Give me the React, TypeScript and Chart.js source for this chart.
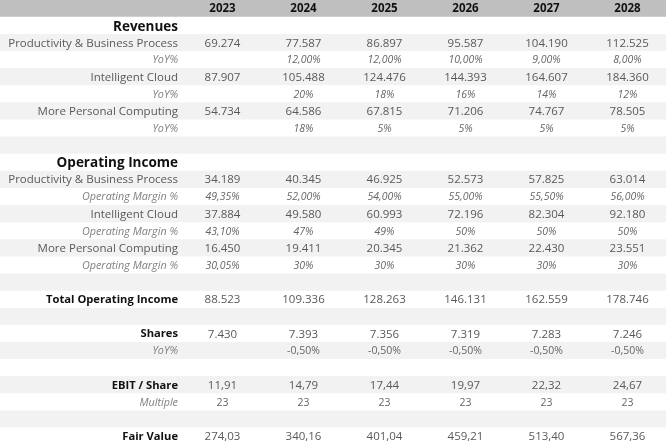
import React, { useEffect, useRef } from 'react';
import { Chart, registerables } from 'chart.js';

Chart.register(...registerables);

// ---- data ----
const years = ['2023', '2024', '2025', '2026', '2027', '2028'];

const pbpRevenue = ['69.274', '77.587', '86.897', '95.587', '104.190', '112.525'];
const pbpRevenueYoY = ['', '12,00%', '12,00%', '10,00%', '9,00%', '8,00%'];
const cloudRevenue = ['87.907', '105.488', '124.476', '144.393', '164.607', '184.360'];
const cloudRevenueYoY = ['', '20%', '18%', '16%', '14%', '12%'];
const mpcRevenue = ['54.734', '64.586', '67.815', '71.206', '74.767', '78.505'];
const mpcRevenueYoY = ['', '18%', '5%', '5%', '5%', '5%'];

const pbpOpIncome = ['34.189', '40.345', '46.925', '52.573', '57.825', '63.014'];
const pbpMargin = ['49,35%', '52,00%', '54,00%', '55,00%', '55,50%', '56,00%'];
const cloudOpIncome = ['37.884', '49.580', '60.993', '72.196', '82.304', '92.180'];
const cloudMargin = ['43,10%', '47%', '49%', '50%', '50%', '50%'];
const mpcOpIncome = ['16.450', '19.411', '20.345', '21.362', '22.430', '23.551'];
const mpcMargin = ['30,05%', '30%', '30%', '30%', '30%', '30%'];

const totalOpIncome = ['88.523', '109.336', '128.263', '146.131', '162.559', '178.746'];
const shares = ['7.430', '7.393', '7.356', '7.319', '7.283', '7.246'];
const sharesYoY = ['', '-0,50%', '-0,50%', '-0,50%', '-0,50%', '-0,50%'];
const ebitPerShare = ['11,91', '14,79', '17,44', '19,97', '22,32', '24,67'];
const multiple = ['23', '23', '23', '23', '23', '23'];
const fairValue = ['274,03', '340,16', '401,04', '459,21', '513,40', '567,36'];

const empty: string[] = [];

const rowLabels = [
  '', 'Revenues', 'Productivity & Business Process', 'YoY%', 'Intelligent Cloud', 'YoY%',
  'More Personal Computing', 'YoY%', '', 'Operating Income', 'Productivity & Business Process',
  'Operating Margin %', 'Intelligent Cloud', 'Operating Margin %', 'More Personal Computing',
  'Operating Margin %', '', 'Total Operating Income', '', 'Shares', 'YoY%', '', 'EBIT / Share',
  'Multiple', '', 'Fair Value',
];

const rowValues = [
  years, empty, pbpRevenue, pbpRevenueYoY, cloudRevenue, cloudRevenueYoY, mpcRevenue, mpcRevenueYoY,
  empty, empty, pbpOpIncome, pbpMargin, cloudOpIncome, cloudMargin, mpcOpIncome, mpcMargin,
  empty, totalOpIncome, empty, shares, sharesYoY, empty, ebitPerShare, multiple, empty, fairValue,
];

// ---- layout / style (not data) ----
const rowKinds = [
  'header', 'section', 'item', 'sub', 'item', 'sub', 'item', 'sub', 'blank', 'section', 'item', 'sub',
  'item', 'sub', 'item', 'sub', 'blank', 'total', 'blank', 'total', 'sub2', 'blank', 'total', 'sub2',
  'blank', 'total',
];

const W = 666;
const H = 445;
const LABEL_W = 182;
const COL_W = 81;
const FONT = '"Open Sans", "DejaVu Sans", sans-serif';

const rowBg = (i: number) => (i === 0 ? '#bfbfbf' : i % 2 === 0 ? '#f2f2f2' : '#ffffff');

const tablePlugin = {
  id: 'tableText',
  afterDraw(chart: any) {
    const { ctx } = chart;
    const xs = chart.scales.x;
    const ys = chart.scales.y;
    ctx.save();
    ctx.textBaseline = 'middle';
    rowLabels.forEach((label, r) => {
      const kind = rowKinds[r];
      const y = ys.getPixelForValue(r) + 0.5;
      if (label) {
        let font = `11.5px ${FONT}`;
        let color = '#595959';
        let yy = y;
        if (kind === 'section') { font = `bold 13.5px ${FONT}`; color = '#111111'; yy = y + 0.5; }
        else if (kind === 'total') { font = `bold 11.2px ${FONT}`; color = '#111111'; }
        else if (kind === 'sub' || kind === 'sub2') { font = `italic 10.8px ${FONT}`; color = '#7f7f7f'; }
        ctx.font = font;
        ctx.fillStyle = color;
        ctx.textAlign = 'right';
        ctx.fillText(label, xs.getPixelForValue(LABEL_W - 4), yy);
      }
      const vals = rowValues[r];
      vals.forEach((v, c) => {
        if (!v) return;
        let font = `11.5px ${FONT}`;
        let color = '#595959';
        if (kind === 'header') { font = `bold 11.5px ${FONT}`; color = '#111111'; }
        else if (kind === 'sub') { font = `italic 10.5px ${FONT}`; color = '#666666'; }
        else if (kind === 'sub2') { font = `10.5px ${FONT}`; color = '#666666'; }
        ctx.font = font;
        ctx.fillStyle = color;
        ctx.textAlign = 'center';
        ctx.fillText(v, xs.getPixelForValue(LABEL_W + COL_W * c + COL_W / 2), y);
      });
    });
    ctx.restore();
  },
};

function TableChart() {
  const ref = useRef<HTMLCanvasElement>(null);
  useEffect(() => {
    document.body.style.margin = '0';
    const canvas = ref.current!;
    const colBounds = years.map((_, i) => LABEL_W + COL_W * i);
    const chart = new Chart(canvas, {
      type: 'bar',
      data: {
        labels: rowLabels.map((_, i) => `row${i}`),
        datasets: [
          {
            data: rowLabels.map(() => [0, W]) as any,
            backgroundColor: rowLabels.map((_, i) => rowBg(i)),
            borderWidth: 0,
            barPercentage: 1,
            categoryPercentage: 1,
          },
        ],
      },
      options: {
        indexAxis: 'y',
        responsive: false,
        animation: false,
        maintainAspectRatio: false,
        layout: { padding: 0 },
        plugins: { legend: { display: false }, tooltip: { enabled: false } },
        events: [],
        scales: {
          x: {
            type: 'linear',
            min: 0,
            max: W,
            z: 1,
            afterBuildTicks: (scale: any) => {
              scale.ticks = colBounds.map((v) => ({ value: v }));
            },
            ticks: { display: false },
            border: { display: false },
            grid: { color: '#d6d6d6', drawTicks: false, lineWidth: 1 },
          },
          y: {
            type: 'category',
            offset: true,
            z: 1,
            ticks: { display: false },
            border: { display: false },
            grid: { color: '#d6d6d6', drawTicks: false, offset: true, lineWidth: 1 },
          },
        },
      },
      plugins: [tablePlugin],
    });
    return () => chart.destroy();
  }, []);
  return <canvas ref={ref} width={W} height={H} style={{ display: 'block' }} />;
}

export default function App() {
  return (
    <div style={{ width: W, height: H, background: '#fff' }}>
      <TableChart />
    </div>
  );
}
